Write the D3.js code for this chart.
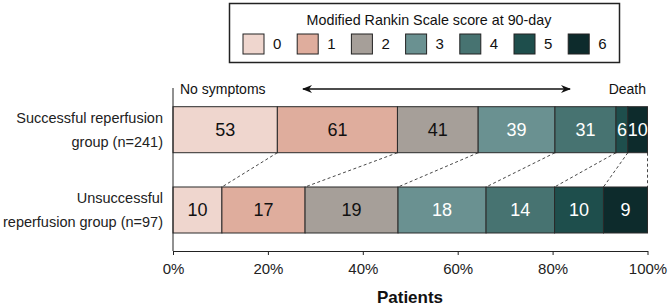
<!DOCTYPE html>
<html><head><meta charset="utf-8">
<script src="https://cdn.jsdelivr.net/npm/d3@7"></script>
<style>body{margin:0;background:#fff}svg{display:block;font-family:"Liberation Sans",Arial,sans-serif}</style>
</head><body><svg id="c" width="669" height="308"></svg>
<script>
const scores = ["0","1","2","3","4","5","6"];
const groups = ["Successful reperfusion group (n=241)", "Unsuccessful reperfusion group (n=97)"];
const groupLines = [["Successful reperfusion","group (n=241)"],["Unsuccessful","reperfusion group (n=97)"]];
const successful = [53,61,41,39,31,6,10];
const unsuccessful = [10,17,19,18,14,10,9];
const tickValues = [0,0.2,0.4,0.6,0.8,1.0];
const colors = ["#efd6ce","#dfad9d","#a69f99","#6a9191","#477371","#1e4e4c","#0d2b2c"];
const textColors = ["#111","#111","#111","#fff","#fff","#fff","#fff"];

const svg = d3.select("#c");
const x = d3.scaleLinear().domain([0,1]).range([173,647.5]);
const y = d3.scaleBand().domain(groups).range([106.7,233]).paddingInner(0.427).paddingOuter(0);
const color = d3.scaleOrdinal().domain(scores).range(colors);

const series = [successful, unsuccessful].map((vals,gi)=>{
  const tot = d3.sum(vals); let c = 0;
  return vals.map((v,i)=>{const s={g:groups[gi],i,v,x0:c/tot,x1:(c+v)/tot}; c+=v; return s;});
});

// connectors
const sTop = series[0], sBot = series[1];
const conn = svg.append("g");
for (let i=0;i<scores.length;i++){
  conn.append("line")
    .attr("x1", x(sTop[i].x1)).attr("y1", y(groups[0])+y.bandwidth())
    .attr("x2", x(sBot[i].x1)).attr("y2", y(groups[1]))
    .attr("stroke","#333").attr("stroke-width",0.9).attr("stroke-dasharray","3,2.5");
}

// bars
series.forEach(s=>{
  const g = svg.append("g");
  g.selectAll("rect").data(s).join("rect")
    .attr("x",d=>x(d.x0)).attr("width",d=>x(d.x1)-x(d.x0))
    .attr("y",d=>y(d.g)).attr("height",y.bandwidth())
    .attr("fill",d=>color(scores[d.i])).attr("stroke","#2a2a2a").attr("stroke-width",1);
  g.selectAll("text").data(s).join("text")
    .attr("x",d=>(x(d.x0)+x(d.x1))/2).attr("y",d=>y(d.g)+y.bandwidth()/2)
    .attr("dy","0.36em").attr("text-anchor","middle")
    .attr("font-size",18).attr("fill",d=>textColors[d.i]).text(d=>d.v);
});

// group labels
groups.forEach((gname,gi)=>{
  const cy = y(gname)+y.bandwidth()/2;
  svg.append("text").attr("text-anchor","end").attr("font-size",14.5).attr("fill","#222")
    .selectAll("tspan").data(groupLines[gi]).join("tspan")
    .attr("x",163).attr("y",(d,k)=>cy+(k-0.5)*24).attr("dy","0.36em").text(d=>d);
});

// y axis line
svg.append("line").attr("x1",173).attr("x2",173).attr("y1",88).attr("y2",251).attr("stroke","#222");

// x axis
const xa = svg.append("g").attr("transform","translate(0,251)")
  .call(d3.axisBottom(x).tickValues(tickValues).tickFormat(d3.format(".0%")).tickSize(4).tickSizeOuter(0));
xa.select(".domain").attr("stroke","#222");
xa.selectAll(".tick line").attr("stroke","#222");
xa.selectAll(".tick text").attr("font-size",15).attr("fill","#222").attr("font-family","Liberation Sans, Arial").attr("dy","1.05em");
svg.append("text").attr("x",410).attr("y",297).attr("dy","0.36em").attr("text-anchor","middle")
  .attr("font-size",17).attr("font-weight","bold").attr("fill","#111").text("Patients");

// annotations
svg.append("text").attr("x",180).attr("y",94).attr("font-size",14).attr("fill","#111").text("No symptoms");
svg.append("text").attr("x",646).attr("y",94).attr("text-anchor","end").attr("font-size",14).attr("fill","#111").text("Death");
const defs = svg.append("defs");
defs.append("marker").attr("id","ah").attr("viewBox","0 0 10 10").attr("refX",9).attr("refY",5)
  .attr("markerWidth",10).attr("markerHeight",10).attr("markerUnits","userSpaceOnUse").attr("orient","auto-start-reverse")
  .append("path").attr("d","M0,1 L10,5 L0,9 L3,5 Z").attr("fill","#111");
svg.append("line").attr("x1",303).attr("x2",570).attr("y1",89).attr("y2",89)
  .attr("stroke","#111").attr("stroke-width",1.3).attr("marker-start","url(#ah)").attr("marker-end","url(#ah)");

// legend
const lg = svg.append("g");
lg.append("rect").attr("x",229.5).attr("y",3.5).attr("width",390).attr("height",59)
  .attr("fill","#fff").attr("stroke","#222").attr("stroke-width",1.5);
lg.append("text").attr("x",429).attr("y",20).attr("dy","0.36em").attr("text-anchor","middle")
  .attr("font-size",14.3).attr("fill","#111").text("Modified Rankin Scale score at 90-day");
const li = lg.selectAll("g.it").data(scores).join("g").attr("class","it")
  .attr("transform",(d,i)=>`translate(${243+i*54.2},34)`);
li.append("rect").attr("width",21).attr("height",20).attr("fill",d=>color(d)).attr("stroke","#222").attr("stroke-width",1);
li.append("text").attr("x",30).attr("y",10).attr("dy","0.36em").attr("font-size",15).attr("fill","#111").text(d=>d);
</script></body></html>
